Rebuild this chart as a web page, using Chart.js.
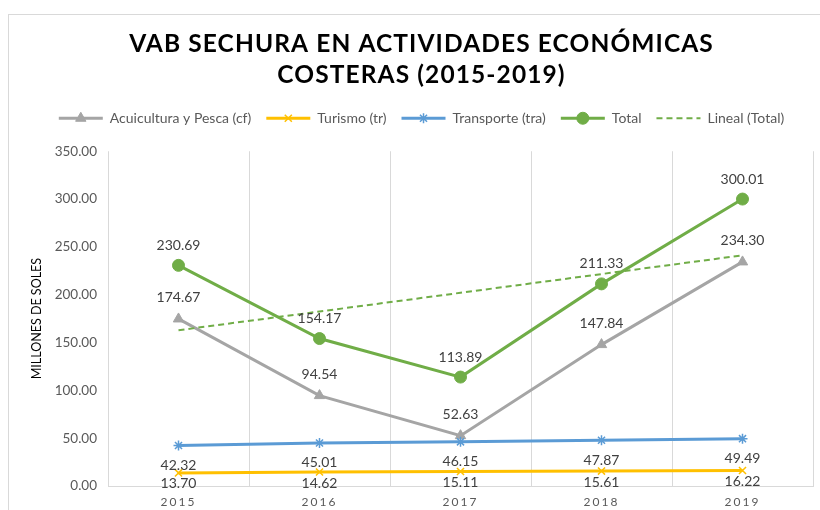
<!DOCTYPE html>
<html><head><meta charset="utf-8">
<script src="https://cdn.jsdelivr.net/npm/chart.js@4.4.0/dist/chart.umd.min.js"></script>
<style>html,body{margin:0;padding:0;background:#fff;}#wrap{width:820px;height:510px;position:relative;}</style>
</head><body><div id="wrap"><canvas id="c" width="820" height="510"></canvas></div>
<script>
const years = ['2015', '2016', '2017', '2018', '2019'];
const acuicultura = [174.67, 94.54, 52.63, 147.84, 234.30];
const turismo = [13.70, 14.62, 15.11, 15.61, 16.22];
const transporte = [42.32, 45.01, 46.15, 47.87, 49.49];
const total = [230.69, 154.17, 113.89, 211.33, 300.01];
const linealTotal = [162.86, 182.44, 202.02, 221.60, 241.18];
const seriesNames = ['Acuicultura y Pesca (cf)', 'Turismo (tr)', 'Transporte (tra)', 'Total', 'Lineal (Total)'];
const yTicks = [0, 50, 100, 150, 200, 250, 300, 350];
const titleLines = ['VAB SECHURA EN ACTIVIDADES ECONÓMICAS', 'COSTERAS (2015-2019)'];
const yTitle = 'MILLONES DE SOLES';

const FONT = 'Lato';

const borderPlugin = {
  id: 'outerBorder',
  beforeDraw(chart) {
    const ctx = chart.ctx;
    ctx.save();
    ctx.strokeStyle = '#d9d9d9';
    ctx.lineWidth = 1;
    ctx.strokeRect(8.5, 14.5, 840, 540);
    ctx.restore();
    const tb = chart.titleBlock;
    if (tb && !tb._ls) {
      const orig = tb.draw;
      tb.draw = function (a) { const c = chart.ctx; c.save(); c.letterSpacing = '1.1px'; orig.call(this, a); c.restore(); };
      tb._ls = true;
    }
    const xs = chart.scales.x;
    if (xs && !xs._ls) {
      const origL = xs.drawLabels;
      xs.drawLabels = function (a) { const c = chart.ctx; c.save(); c.letterSpacing = '2px'; origL.call(this, a); c.restore(); };
      xs._ls = true;
    }
  }
};

const legendGap = {
  id: 'legendGap',
  beforeInit(chart) {
    const fit = chart.legend.fit;
    chart.legend.fit = function () { fit.call(this); this.height += 16; };
  }
};

const legendMarks = {
  id: 'legendMarks',
  afterDraw(chart) {
    const lg = chart.legend;
    if (!lg || !lg.legendHitBoxes) return;
    const ctx = chart.ctx;
    const bw = lg.options.labels.boxWidth;
    lg.legendItems.forEach((item, i) => {
      const hb = lg.legendHitBoxes[i];
      const ds = chart.data.datasets[item.datasetIndex];
      const y = hb.top + hb.height / 2;
      ctx.save();
      ctx.strokeStyle = ds.borderColor;
      ctx.lineWidth = ds.borderWidth;
      ctx.setLineDash(ds.borderDash || []);
      ctx.beginPath();
      ctx.moveTo(hb.left, y);
      ctx.lineTo(hb.left + bw, y);
      ctx.stroke();
      ctx.setLineDash([]);
      if (ds.pointRadius > 0) {
        ctx.fillStyle = ds.pointBackgroundColor;
        ctx.strokeStyle = ds.pointBorderColor;
        ctx.lineWidth = ds.pointBorderWidth;
        Chart.helpers.drawPoint(ctx, { pointStyle: ds.pointStyle, radius: ds.pointRadius, borderWidth: ds.pointBorderWidth, rotation: 0 }, hb.left + bw / 2, y);
      }
      ctx.restore();
    });
  }
};

const valueLabels = {
  id: 'valueLabels',
  afterDatasetsDraw(chart) {
    const ctx = chart.ctx;
    chart.data.datasets.forEach((ds, i) => {
      if (ds.labelOffset === undefined) return;
      const meta = chart.getDatasetMeta(i);
      ctx.save();
      ctx.font = '14px ' + FONT;
      ctx.fillStyle = '#404040';
      ctx.textAlign = 'center';
      ctx.textBaseline = 'middle';
      meta.data.forEach((pt, j) => {
        ctx.fillText(ds.data[j].toFixed(2), pt.x, pt.y + ds.labelOffset);
      });
      ctx.restore();
    });
  }
};

new Chart(document.getElementById('c'), {
  type: 'line',
  data: {
    labels: years,
    datasets: [
      { label: seriesNames[0], data: acuicultura, borderColor: '#A5A5A5', backgroundColor: '#A5A5A5', borderWidth: 3,
        pointStyle: 'triangle', pointRadius: 6, pointBackgroundColor: '#A5A5A5', pointBorderColor: '#A5A5A5', pointBorderWidth: 1,
        order: 4, labelOffset: -21 },
      { label: seriesNames[1], data: turismo, borderColor: '#FFC000', backgroundColor: '#FFC000', borderWidth: 3,
        pointStyle: 'crossRot', pointRadius: 5, pointBackgroundColor: '#FFC000', pointBorderColor: '#FFC000', pointBorderWidth: 1.5,
        order: 3, labelOffset: 11 },
      { label: seriesNames[2], data: transporte, borderColor: '#5B9BD5', backgroundColor: '#5B9BD5', borderWidth: 3,
        pointStyle: 'star', pointRadius: 5, pointBackgroundColor: '#5B9BD5', pointBorderColor: '#5B9BD5', pointBorderWidth: 1.5,
        order: 2, labelOffset: 20 },
      { label: seriesNames[3], data: total, borderColor: '#70AD47', backgroundColor: '#70AD47', borderWidth: 3,
        pointStyle: 'circle', pointRadius: 6, pointBackgroundColor: '#70AD47', pointBorderColor: '#70AD47', pointBorderWidth: 1,
        order: 1, labelOffset: -20 },
      { label: seriesNames[4], data: linealTotal, borderColor: '#70AD47', backgroundColor: '#70AD47', borderWidth: 2,
        borderDash: [6, 4], pointRadius: 0, pointStyle: 'circle', order: 0 }
    ]
  },
  options: {
    responsive: false,
    animation: false,
    devicePixelRatio: 1,
    layout: { padding: { left: 26, right: 3, top: 0, bottom: 0 } },
    elements: { line: { tension: 0 } },
    plugins: {
      tooltip: { enabled: false },
      title: {
        display: true, text: titleLines, color: '#000000',
        font: { family: FONT, size: 24.5, weight: 'bold', lineHeight: 1.25 },
        padding: { top: 29, bottom: 6 }
      },
      legend: {
        display: true, position: 'top',
        labels: {
          color: '#595959', font: { family: FONT, size: 14 },
          boxWidth: 44, boxHeight: 12, padding: 15,
          sort: (a, b) => a.datasetIndex - b.datasetIndex,
          generateLabels(chart) {
            const items = Chart.defaults.plugins.legend.labels.generateLabels(chart);
            items.forEach(it => { it.fillStyle = 'rgba(0,0,0,0)'; it.strokeStyle = 'rgba(0,0,0,0)'; it.lineWidth = 0; it.lineDash = []; });
            return items;
          }
        }
      }
    },
    scales: {
      x: {
        offset: true,
        afterFit(s) { s.height = 24; },
        grid: { display: true, offset: true, color: '#d9d9d9', drawTicks: false },
        border: { display: true, color: '#d9d9d9' },
        ticks: { color: '#595959', font: { family: FONT, size: 12 }, padding: 9 }
      },
      y: {
        min: 0, max: 350,
        afterBuildTicks(s) { s.ticks = yTicks.map(v => ({ value: v })); },
        afterFit(s) { s.width = 82; },
        grid: { display: false, drawTicks: false },
        border: { display: false },
        ticks: { color: '#595959', font: { family: FONT, size: 13.5 }, padding: 11, callback: v => Number(v).toFixed(2) },
        title: { display: true, text: yTitle, color: '#000000', font: { family: FONT, size: 12.5 }, padding: { top: 3.5, bottom: 0 } }
      }
    }
  },
  plugins: [borderPlugin, legendGap, legendMarks, valueLabels]
});
</script>
</body></html>
